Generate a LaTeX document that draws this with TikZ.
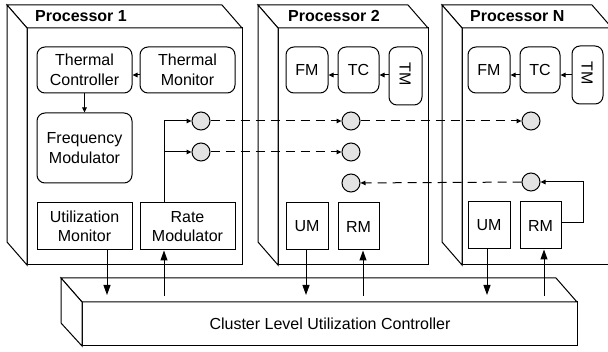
\documentclass[tikz,border=0pt]{standalone}
\usepackage{fontspec}
\setmainfont{Liberation Sans}
\usetikzlibrary{arrows.meta}
\begin{document}
\begin{tikzpicture}[x=1pt,y=-1pt,
  every node/.style={font=\fontsize{16}{19.5}\selectfont, inner sep=0pt, align=center},
  frame/.style={draw=black, line width=1pt, fill=white, line join=miter},
  rbox/.style={draw, line width=1pt, rounded corners=8pt},
  sbox/.style={draw, line width=1pt},
  circ/.style={draw, line width=1pt, circle, fill=gray!22, minimum size=18pt},
  ptitle/.style={font=\fontsize{16}{19.5}\selectfont\bfseries, anchor=base west},
  smallarr/.style={line width=1pt, -{Triangle[length=5pt,width=4.5pt]}},
  bigarr/.style={line width=1pt, -{Triangle[length=10pt,width=7pt]}},
  dasharr/.style={line width=1pt, dash pattern=on 9pt off 6pt, -{Triangle[length=5pt,width=4.5pt]}}]
\useasboundingbox (0,0) rectangle (608,352);

% ---------- Processor 1 ----------
\draw[frame] (27,28) rectangle (242,265);
\draw[frame] (7,5) -- (222,5) -- (242,28) -- (27,28) -- cycle;
\draw[frame] (7,5) -- (27,28) -- (27,265) -- (7,242) -- cycle;
\node[ptitle] (p1) at (35,22) {Processor 1};
\node[rbox, minimum width=95pt, minimum height=46pt] (tc1) at (84.5,70) {Thermal\\Controller};
\node[rbox, minimum width=95pt, minimum height=46pt] (tm1) at (187.5,70) {Thermal\\Monitor};
\node[rbox, minimum width=95pt, minimum height=70pt] (fm1) at (84.5,148) {Frequency\\Modulator};
\node[sbox, minimum width=95pt, minimum height=47pt] (um1) at (84.5,226.5) {Utilization\\Monitor};
\node[sbox, minimum width=95pt, minimum height=47pt] (rm1) at (187.5,226.5) {Rate\\Modulator};
\node[circ] (c11) at (201,121) {};
\node[circ] (c12) at (201,152) {};
\draw[smallarr] (tm1.west |- 0,75) -- (tc1.east |- 0,75);
\draw[smallarr] (tc1) -- (fm1);
\coordinate (b1) at (164,296);
\coordinate (br1) at (164,152);
\draw[smallarr] (rm1.north -| b1) |- (c11);
\draw[smallarr] (br1) -- (c12);

% ---------- Processor 2 ----------
\draw[frame] (278,28) rectangle (428,265);
\draw[frame] (258,5) -- (408,5) -- (428,28) -- (278,28) -- cycle;
\draw[frame] (258,5) -- (278,28) -- (278,265) -- (258,242) -- cycle;
\node[ptitle] (p2) at (288,22) {Processor 2};
\node[rbox, minimum width=42pt, minimum height=46pt] (fm2) at (307,70) {FM};
\node[rbox, minimum width=41pt, minimum height=46pt] (tc2) at (358.5,70) {TC};
\node[rbox, minimum width=33pt, minimum height=58pt] (tm2) at (405.5,76) {};
\node[rotate=-90] (tm2t) at (405,74) {TM};
\node[circ] (c21) at (351,121) {};
\node[circ] (c22) at (351,152) {};
\node[circ] (c23) at (351,183) {};
\node[sbox, minimum width=42pt, minimum height=47pt] (um2) at (307,226.5) {UM};
\node[sbox, minimum width=41pt, minimum height=47pt] (rm2) at (358.5,226.5) {RM};
\draw[smallarr] (tm2.west |- 0,75) -- (tc2.east |- 0,75);
\draw[smallarr] (tc2.west |- 0,75) -- (fm2.east |- 0,75);

% ---------- Processor N ----------
\draw[frame] (462,28) rectangle (612,265);
\draw[frame] (442,5) -- (592,5) -- (612,28) -- (462,28) -- cycle;
\draw[frame] (442,5) -- (462,28) -- (462,265) -- (442,242) -- cycle;
\node[ptitle] (pn) at (470,22) {Processor N};
\node[rbox, minimum width=42pt, minimum height=46pt] (fmN) at (489,70) {FM};
\node[rbox, minimum width=40pt, minimum height=46pt] (tcN) at (540,70) {TC};
\node[rbox, minimum width=31pt, minimum height=58pt] (tmN) at (587.5,75) {};
\node[rotate=-90] (tmNt) at (587,73) {TM};
\node[circ] (cN1) at (531,121) {};
\node[circ] (cN2) at (531,182) {};
\node[sbox, minimum width=42pt, minimum height=47pt] (umN) at (489,225.5) {UM};
\node[sbox, minimum width=41pt, minimum height=47pt] (rmN) at (540.5,225.5) {RM};
\draw[smallarr] (tmN.west |- 0,75) -- (tcN.east |- 0,75);
\draw[smallarr] (tcN.west |- 0,75) -- (fmN.east |- 0,75);
\coordinate (lp) at (583,182);
\draw[smallarr] (rmN.east |- 0,223) -| (lp) -- (cN2);

% ---------- dashed links ----------
\draw[dasharr] (c11) -- (c21);
\draw[dasharr] (c21) -- (cN1);
\draw[dasharr] (c12) -- (c22);
\draw[dasharr] (cN2) -- (c23);

% ---------- Cluster Level Utilization Controller ----------
\draw[frame] (82,302) rectangle (577,346);
\draw[frame] (61,278) -- (556,278) -- (577,302) -- (82,302) -- cycle;
\draw[frame] (61,278) -- (82,302) -- (82,346) -- (61,323) -- cycle;
\node (cluc) at (330,324) {Cluster Level Utilization Controller};

% ---------- vertical links ----------
\coordinate (a1) at (107,295);
\coordinate (a2) at (306,295);
\coordinate (aN) at (487,295);
\coordinate (b2) at (363,296);
\coordinate (bN) at (544,296);
\draw[bigarr] (um1.south -| a1) -- (a1);
\draw[bigarr] (um2.south -| a2) -- (a2);
\draw[bigarr] (umN.south -| aN) -- (aN);
\draw[bigarr] (b1) -- (rm1.south -| b1);
\draw[bigarr] (b2) -- (rm2.south -| b2);
\draw[bigarr] (bN) -- (rmN.south -| bN);
\end{tikzpicture}
\end{document}
